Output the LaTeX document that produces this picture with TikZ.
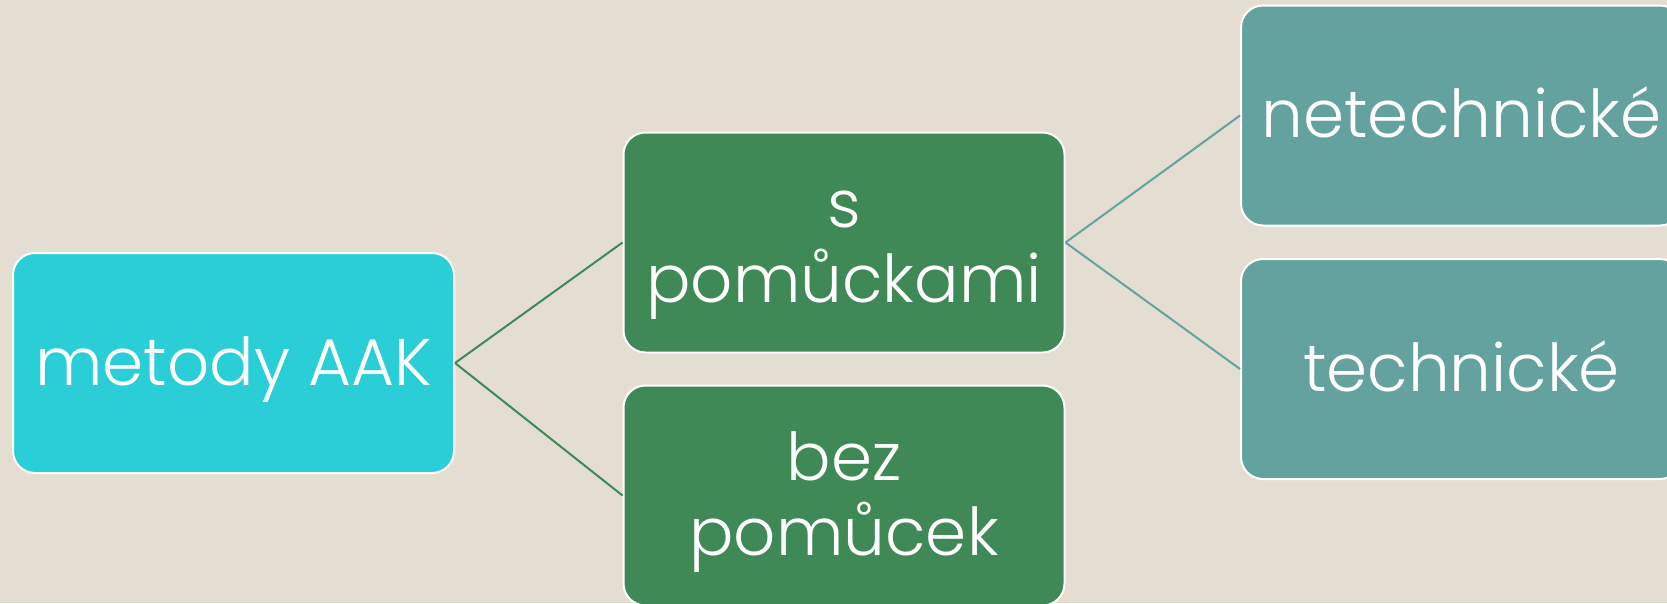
\documentclass[tikz,border=0pt]{standalone}
\usepackage{fontspec}
\setmainfont{Poppins}[UprightFont=* Light]
\definecolor{bgsand}{HTML}{E4DDD1}
\definecolor{aakcyan}{HTML}{2ACED6}
\definecolor{aakgreen}{HTML}{3E8956}
\definecolor{aakteal}{HTML}{63A29E}

\begin{document}
\begin{tikzpicture}[x=1pt,y=-1pt,
    box/.style={draw=white,line width=2pt,rounded corners=22pt,
        minimum width=441pt,minimum height=220pt,inner sep=0pt,
        text=white,align=center,font=\fontsize{66}{75}\selectfont},
    oneline/.style={box,text height=54pt,text depth=10pt},
    twoline/.style={box,text height=130pt,text depth=11pt},
    link/.style={line width=2pt}]
    \useasboundingbox (0,0) rectangle (1667,603);
    \fill [bgsand] (0,0) rectangle (1667,603);
    \clip (0,0) rectangle (1667,603);
    % root
    \node [oneline,fill=aakcyan] (aak) at (233.5,363) {metody AAK};
    % second level
    \node [twoline,fill=aakgreen] (spom) at (844,242.5) {s\\pomůckami};
    \node [twoline,fill=aakgreen] (bezpom) at (844,495.5) {bez\\pomůcek};
    % third level
    \node [oneline,fill=aakteal] (netech) at (1461.5,115.5) {netechnické};
    \node [oneline,fill=aakteal] (tech) at (1461.5,369) {technické};
    \draw [link,aakgreen] (aak.east) -- (spom.west);
    \draw [link,aakgreen] (aak.east) -- (bezpom.west);
    \draw [link,aakteal] (spom.east) -- (netech.west);
    \draw [link,aakteal] (spom.east) -- (tech.west);
\end{tikzpicture}
\end{document}
